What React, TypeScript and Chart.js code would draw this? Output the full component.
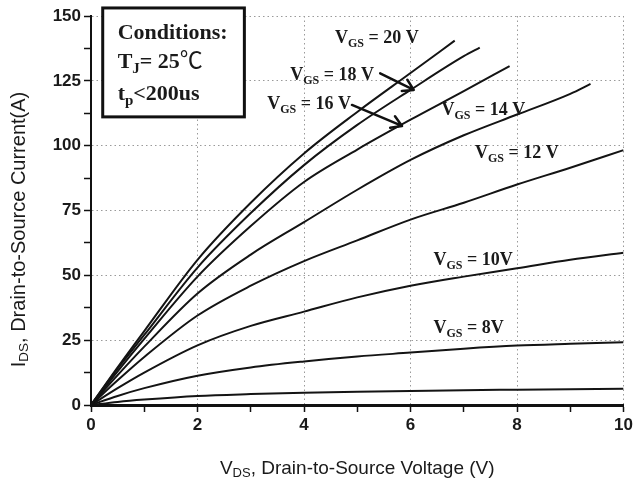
import React, { useEffect, useRef } from 'react';
import { Chart, registerables } from 'chart.js';

Chart.register(...registerables);

// Drain-source voltage samples (V) and drain current (A) per gate voltage
const VDS_20 = [0, 0.5, 1, 2, 3, 4, 5, 6, 6.83];
const ID_20 = [0, 14.5, 28.5, 56, 78, 97, 113, 128, 140.5];
const VDS_18 = [0, 0.5, 1, 2, 3, 4, 5, 6, 7, 7.3];
const ID_18 = [0, 14, 27, 53, 74, 92.5, 108, 121.5, 134.5, 137.8];
const VDS_16 = [0, 0.5, 1, 2, 3, 4, 5, 6, 7, 7.86];
const ID_16 = [0, 13, 25.5, 49.5, 69, 86, 98.5, 110, 121, 130.7];
const VDS_14 = [0, 0.5, 1, 2, 3, 4, 5, 6, 7, 8, 9, 9.38];
const ID_14 = [0, 11.5, 22.5, 43, 58, 70.5, 83, 94.5, 104, 112, 120, 123.8];
const VDS_FULL = [0, 0.5, 1, 2, 3, 4, 5, 6, 7, 8, 9, 10];
const ID_12 = [0, 9.5, 18.5, 34.5, 46, 55.5, 63.5, 71.5, 78, 85, 91.5, 98.3];
const ID_10 = [0, 6.5, 12.5, 23, 30.5, 36, 41.5, 46, 49.5, 52.7, 56, 58.7];
const ID_8 = [0, 3.5, 6.5, 11.3, 14.5, 16.8, 18.7, 20.2, 21.7, 22.9, 23.6, 24.2];
const ID_6 = [0, 1.2, 2.1, 3.5, 4.2, 4.7, 5.1, 5.4, 5.7, 5.9, 6.1, 6.3];

const SERIES = [
  { name: 'VGS = 20 V', xs: VDS_20, ys: ID_20 },
  { name: 'VGS = 18 V', xs: VDS_18, ys: ID_18 },
  { name: 'VGS = 16 V', xs: VDS_16, ys: ID_16 },
  { name: 'VGS = 14 V', xs: VDS_14, ys: ID_14 },
  { name: 'VGS = 12 V', xs: VDS_FULL, ys: ID_12 },
  { name: 'VGS = 10 V', xs: VDS_FULL, ys: ID_10 },
  { name: 'VGS = 8 V', xs: VDS_FULL, ys: ID_8 },
  { name: 'VGS = 6 V', xs: VDS_FULL, ys: ID_6 },
];

const X_MIN = 0, X_MAX = 10, X_STEP = 1;
const Y_MIN = 0, Y_MAX = 150, Y_STEP = 12.5;

const SERIF = '"Liberation Serif", "Times New Roman", serif';
const SANS = '"Liberation Sans", Arial, sans-serif';
const CJK = '"Noto Sans CJK SC", "Noto Sans", sans-serif';

// [text, isSubscript, optional font override]
type Part = [string, boolean, string?];

function drawParts(ctx: CanvasRenderingContext2D, x: number, y: number, parts: Part[], big: string, small: string, dy: number) {
  let cx = x;
  for (const [t, sub, f] of parts) {
    ctx.font = f || (sub ? small : big);
    ctx.fillText(t, cx, sub ? y + dy : y);
    cx += ctx.measureText(t).width;
  }
  return cx - x;
}
function measureParts(ctx: CanvasRenderingContext2D, parts: Part[], big: string, small: string) {
  let w = 0;
  for (const [t, sub, f] of parts) {
    ctx.font = f || (sub ? small : big);
    w += ctx.measureText(t).width;
  }
  return w;
}

function arrow(ctx: CanvasRenderingContext2D, x1: number, y1: number, x2: number, y2: number) {
  ctx.save();
  ctx.strokeStyle = '#111';
  ctx.lineWidth = 2.5;
  ctx.lineCap = 'round';
  ctx.beginPath();
  ctx.moveTo(x1, y1);
  ctx.lineTo(x2, y2);
  const a = Math.atan2(y2 - y1, x2 - x1);
  const L = 12;
  ctx.moveTo(x2, y2);
  ctx.lineTo(x2 - L * Math.cos(a - 0.55), y2 - L * Math.sin(a - 0.55));
  ctx.moveTo(x2, y2);
  ctx.lineTo(x2 - L * Math.cos(a + 0.55), y2 - L * Math.sin(a + 0.55));
  ctx.stroke();
  ctx.restore();
}

const annotPlugin = {
  id: 'annot',
  afterDatasetsDraw(chart: any) {
    const ctx: CanvasRenderingContext2D = chart.ctx;
    const xs = chart.scales.x, ys = chart.scales.y;
    const px = (v: number) => xs.getPixelForValue(v);
    const py = (v: number) => ys.getPixelForValue(v);
    ctx.save();
    ctx.textBaseline = 'alphabetic';
    ctx.textAlign = 'left';

    // Conditions box
    const bx1 = px(0.22), bx2 = px(2.88), by1 = py(153.1), by2 = py(111.1);
    ctx.fillStyle = '#fff';
    ctx.fillRect(bx1, by1, bx2 - bx1, by2 - by1);
    ctx.strokeStyle = '#111';
    ctx.lineWidth = 3;
    ctx.strokeRect(bx1, by1, bx2 - bx1, by2 - by1);
    ctx.fillStyle = '#1a1a1a';
    const bigC = `bold 22px ${SERIF}`, smallC = `bold 15px ${SERIF}`;
    const tx = px(0.5);
    drawParts(ctx, tx, py(141.1), [['Conditions:', false]], bigC, smallC, 5);
    drawParts(ctx, tx, py(130.0), [['T', false], ['J', true], ['= 25', false], ['\u2103', false, `23px ${CJK}`]], bigC, smallC, 5);
    drawParts(ctx, tx, py(117.6), [['t', false], ['p', true], ['<200us', false]], bigC, smallC, 5);

    // Curve labels
    const big = `bold 18px ${SERIF}`, small = `bold 12px ${SERIF}`;
    const labels: [string, number, number][] = [
      [' = 20 V', 4.58, 139.6],
      [' = 18 V', 3.74, 125.3],
      [' = 16 V', 3.31, 114.2],
      [' = 14 V', 6.58, 111.8],
      [' = 12 V', 7.21, 95.3],
      [' = 10V', 6.43, 54.0],
      [' = 8V', 6.43, 27.8],
    ];
    for (const [rest, vx, vy] of labels) {
      drawParts(ctx, px(vx), py(vy), [['V', false], ['GS', true], [rest, false]], big, small, 4);
    }
    arrow(ctx, px(5.43), py(127.9), px(6.06), py(121.5));
    arrow(ctx, px(4.90), py(115.7), px(5.84), py(107.6));
    ctx.restore();
  },
  afterDraw(chart: any) {
    const ctx: CanvasRenderingContext2D = chart.ctx;
    const area = chart.chartArea;
    ctx.save();
    ctx.fillStyle = '#1a1a1a';
    ctx.textBaseline = 'alphabetic';
    ctx.textAlign = 'left';
    // X title
    const xp: Part[] = [['V', false], ['DS', true], [', Drain-to-Source Voltage (V)', false]];
    const bigX = `19px ${SANS}`, smallX = `13px ${SANS}`;
    const xw = measureParts(ctx, xp, bigX, smallX);
    const xc = (area.left + area.right) / 2;
    drawParts(ctx, xc - xw / 2, area.bottom + 69, xp, bigX, smallX, 3);
    // Y title
    const yp: Part[] = [['I', false], ['DS', true], [', Drain-to-Source Current(A)', false]];
    const bigY = `20px ${SANS}`, smallY = `13.5px ${SANS}`;
    const yw = measureParts(ctx, yp, bigY, smallY);
    ctx.translate(area.left - 66, (area.top + area.bottom) / 2 + 19);
    ctx.rotate(-Math.PI / 2);
    drawParts(ctx, -yw / 2, 0, yp, bigY, smallY, 3);
    ctx.restore();
  },
};

export default function App() {
  const ref = useRef<HTMLCanvasElement>(null);
  useEffect(() => {
    document.body.style.margin = '0';
    const isMajorY = (v: number) => Math.abs(v / 25 - Math.round(v / 25)) < 1e-6;
    const isMajorX = (v: number) => Math.abs(v / 2 - Math.round(v / 2)) < 1e-6;
    const tickFont = { family: SANS, size: 17, weight: 'bold' as const };
    const chart = new Chart(ref.current!, {
      type: 'line',
      data: {
        datasets: SERIES.map((s) => ({
          label: s.name,
          data: s.xs.map((x, i) => ({ x, y: s.ys[i] })),
          borderColor: '#141414',
          borderWidth: 2,
          pointRadius: 0,
          fill: false,
          cubicInterpolationMode: 'monotone' as const,
        })),
      },
      options: {
        responsive: false,
        animation: false,
        devicePixelRatio: 1,
        layout: { padding: { top: 16, right: 10, bottom: 0, left: 0 } },
        plugins: { legend: { display: false }, tooltip: { enabled: false }, title: { display: false } },
        scales: {
          x: {
            type: 'linear',
            min: X_MIN,
            max: X_MAX,
            afterFit: (s: any) => { s.height = 76; },
            ticks: {
              stepSize: X_STEP,
              autoSkip: false,
              maxRotation: 0,
              padding: 3,
              color: '#1a1a1a',
              font: tickFont,
              callback: (v: any) => (isMajorX(Number(v)) ? String(v) : ''),
            },
            grid: {
              color: (c: any) => (c.tick && isMajorX(c.tick.value) ? '#9a9a9a' : 'rgba(0,0,0,0)'),
              lineWidth: 1,
              tickColor: '#111',
              tickLength: 7,
              tickWidth: 1.5,
            },
            border: { display: true, color: '#111', width: 3, dash: [1.5, 3] },
          },
          y: {
            type: 'linear',
            min: Y_MIN,
            max: Y_MAX,
            afterFit: (s: any) => { s.width = 91; },
            ticks: {
              stepSize: Y_STEP,
              autoSkip: false,
              padding: 3,
              color: '#1a1a1a',
              font: tickFont,
              callback: (v: any) => (isMajorY(Number(v)) ? String(v) : ''),
            },
            grid: {
              color: (c: any) => (c.tick && isMajorY(c.tick.value) ? '#9a9a9a' : 'rgba(0,0,0,0)'),
              lineWidth: 1,
              tickColor: '#111',
              tickLength: 7,
              tickWidth: 1.5,
            },
            border: { display: true, color: '#111', width: 2, dash: [1.5, 3] },
          },
        },
      },
      plugins: [annotPlugin],
    } as any);
    return () => chart.destroy();
  }, []);
  return (
    <div style={{ width: 636, height: 481, position: 'relative', overflow: 'hidden', background: '#fff' }}>
      <canvas ref={ref} width={636} height={481} style={{ display: 'block', width: 636, height: 481 }} />
    </div>
  );
}
